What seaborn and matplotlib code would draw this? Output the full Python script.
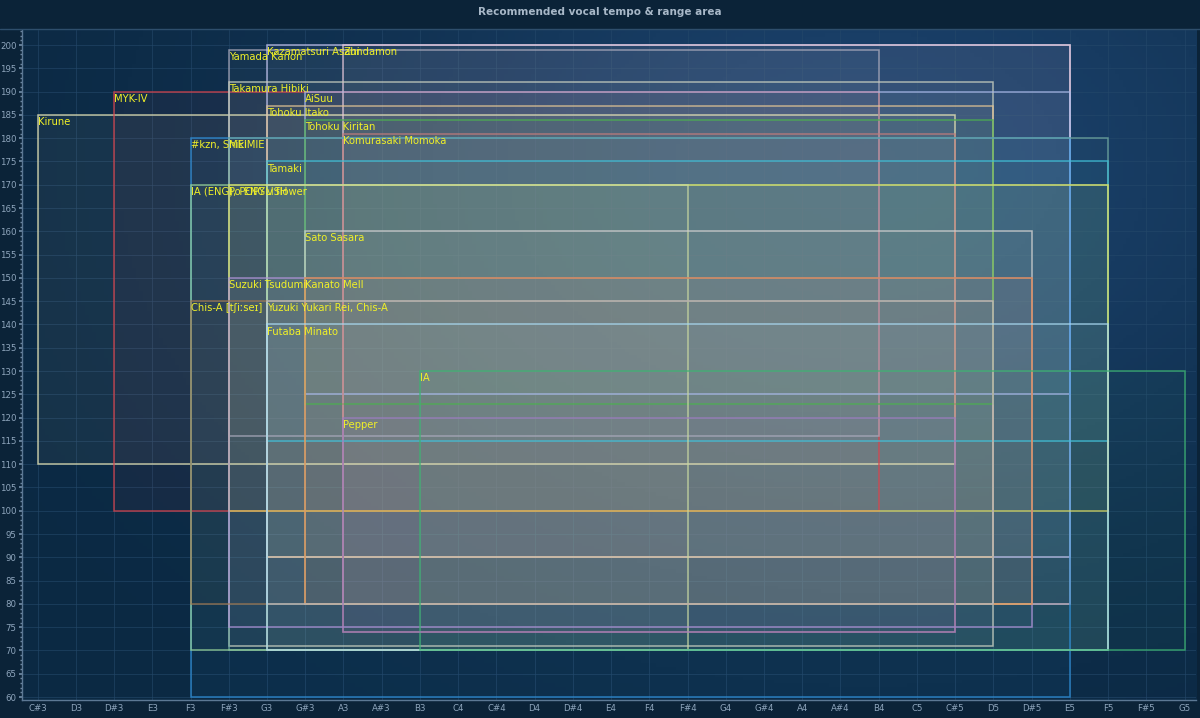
import numpy as np
import seaborn as sns
import matplotlib.pyplot as plt
from matplotlib.patches import Rectangle
from matplotlib.ticker import MultipleLocator

# Note axis (one tick per semitone)
notes = ['C#3', 'D3', 'D#3', 'E3', 'F3', 'F#3', 'G3', 'G#3', 'A3', 'A#3', 'B3',
         'C4', 'C#4', 'D4', 'D#4', 'E4', 'F4', 'F#4', 'G4', 'G#4', 'A4', 'A#4', 'B4',
         'C5', 'C#5', 'D5', 'D#5', 'E5', 'F5', 'F#5', 'G5']

# Voices: range (low/high note) and tempo (low/high bpm)
voices = ['Kirune', 'MYK-IV', 'Yamada Kanon', 'Kazamatsuri Asahi', 'Zundamon',
          'Takamura Hibiki', 'AiSuu', 'Tohoku Itako', 'Tohoku Kiritan',
          'Komurasaki Momoka', '#kzn, Shiki', 'MEIMIE', 'Tamaki', 'IA (ENG), POPY',
          'Po ENGLISH', 'v flower', 'Sato Sasara', 'Suzuki Tsudumi', 'Kanato Mell',
          'Chis-A [tʃiːseɪ]', 'Yuzuki Yukari Rei, Chis-A', 'Futaba Minato', 'IA', 'Pepper']
low_note = ['C#3', 'D#3', 'F#3', 'G3', 'A3', 'F#3', 'G#3', 'G3', 'G#3', 'A3', 'F3', 'F#3',
            'G3', 'F3', 'F#3', 'G3', 'G#3', 'F#3', 'G#3', 'F3', 'G3', 'G3', 'B3', 'A3']
high_note = ['C#5', 'B4', 'B4', 'E5', 'E5', 'D5', 'E5', 'D5', 'D5', 'C#5', 'E5', 'F5',
             'F5', 'F5', 'F5', 'F#4', 'D#5', 'D#5', 'D#5', 'D5', 'D5', 'F5', 'G5', 'C#5']
low_bpm = [110, 100, 116, 90, 80, 71, 125, 90, 123, 74, 60, 70,
           115, 70, 100, 70, 80, 75, 80, 80, 80, 70, 70, 74]
high_bpm = [185, 190, 199, 200, 200, 192, 190, 187, 184, 181, 180, 180,
            175, 170, 170, 170, 160, 150, 150, 145, 145, 140, 130, 120]
colors = ['#e6e4b4', '#d8434c', '#a9a9bb', '#c4c4ee', '#e8c8d8', '#c8cfc0', '#a8b8e8',
          '#e2c494', '#4cb050', '#c07c7c', '#2f8fd8', '#70a8a0', '#3fc0d8', '#98d498',
          '#d8d860', '#c8d8a0', '#d0d0d0', '#b092d8', '#e08a3c', '#a07850', '#c0c8d0',
          '#a8d8f0', '#3cb371', '#9c7cc0']

sns.set_theme(style='dark')
plt.rcParams['font.family'] = ['DejaVu Sans']

fig = plt.figure(figsize=(12, 7.18), dpi=100)
fig.patch.set_facecolor('#0b2338')
ax = fig.add_axes([0.018, 0.025, 0.979, 0.933])
ax.set_facecolor('#0d2b46')

x_lo, x_hi = -0.42, 30.31
y_lo, y_hi = 59.36, 203.2

# soft glow in the background
gx, gy = np.meshgrid(np.linspace(0, 1, 300), np.linspace(0, 1, 200))
glow = np.exp(-(((gx - 0.72) / 0.45) ** 2 + ((gy - 0.8) / 0.55) ** 2))
ax.imshow(glow, extent=(x_lo, x_hi, y_lo, y_hi), origin='lower', aspect='auto',
          cmap=sns.blend_palette(['#0b2943', '#1b416b'], as_cmap=True), zorder=0)

for name, ln, hn, lb, hb, c in zip(voices, low_note, high_note, low_bpm, high_bpm, colors):
    x0 = notes.index(ln)
    x1 = notes.index(hn)
    ax.add_patch(Rectangle((x0, lb), x1 - x0, hb - lb, facecolor=c, alpha=0.05,
                           edgecolor='none', zorder=2))
    ax.add_patch(Rectangle((x0, lb), x1 - x0, hb - lb, facecolor='none',
                           edgecolor=c, alpha=0.8, lw=1.1, zorder=3))
    ax.annotate(name, (x0, hb), xytext=(0, -1.5), textcoords='offset points',
                ha='left', va='top', fontsize=7.2, color='#f0f028', zorder=5)

ax.set_xlim(x_lo, x_hi)
ax.set_ylim(y_lo, y_hi)
ax.set_xticks(range(len(notes)))
ax.set_xticklabels(notes)
ax.yaxis.set_major_locator(MultipleLocator(5))
ax.yaxis.set_minor_locator(MultipleLocator(1))
ax.tick_params(axis='both', labelsize=6.2, colors='#8fa6bd', length=0, pad=3)
ax.tick_params(axis='y', which='major', length=2.5, color='#6f8aa5', left=True, pad=1)
ax.tick_params(axis='y', which='minor', length=1.2, color='#6f8aa5', left=True)
ax.grid(True, color='#24486a', lw=0.6, alpha=0.7)
for side in ['top', 'right']:
    ax.spines[side].set_visible(False)
for side in ['left', 'bottom']:
    ax.spines[side].set_color('#5c7894')
    ax.spines[side].set_linewidth(1)

fig.text(0.5, 0.983, 'Recommended vocal tempo & range area', ha='center', va='center',
         fontsize=7.5, fontweight='bold', color='#a8b8c8')
fig.add_artist(plt.Line2D([0, 1], [0.96, 0.96], color='#2e4e6c', lw=1))

plt.savefig('out.png', dpi=100, facecolor=fig.get_facecolor())
